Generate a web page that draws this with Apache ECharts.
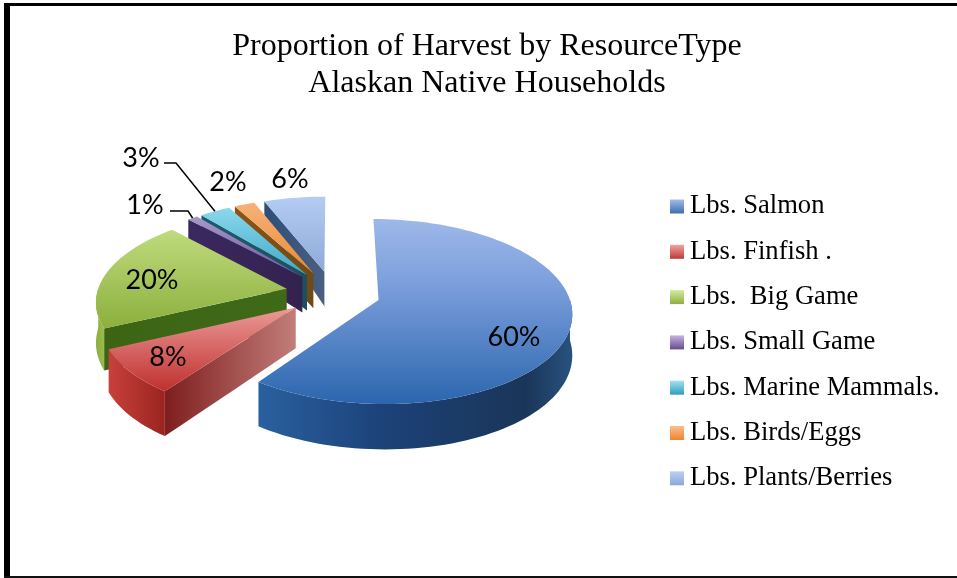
<!DOCTYPE html>
<html><head><meta charset="utf-8">
<style>html,body{margin:0;padding:0;background:#fff}#c{width:957px;height:578px}</style>
<script src="https://cdn.jsdelivr.net/npm/echarts@6/dist/echarts.min.js"></script>
</head><body><div id="c"></div>
<script>
const categories = ['Lbs. Salmon','Lbs. Finfish .','Lbs.  Big Game','Lbs. Small Game','Lbs. Marine Mammals.','Lbs. Birds/Eggs','Lbs. Plants/Berries'];
const shares = [60, 8, 20, 1, 3, 2, 6];
const titleLines = ['Proportion of Harvest by ResourceType','Alaskan Native Households'];

// layout and style, separate from the data
const view = {cx:333, cy:293, rx:189.6, ry:89.3, persp:0.124, explode:0.25};
const labelPos = [[514,337],[168,357],[152,280],[145,205],[141,158],[228,182],[290,179]];
const leaderStart = {3:[[170,211],[188,211]], 4:[[164,163],[176,163]]};
const grad = (stops,h)=>new echarts.graphic.LinearGradient(0,0,h?1:0,h?0:1,
  stops.map((c,i)=>({offset:Array.isArray(c)?c[0]:i/(stops.length-1),color:Array.isArray(c)?c[1]:c})));
const palette = [
 {top:[[0,'#9DB8EA'],[0.35,'#7C9FDC'],[1,'#2B66AE']], side:['#1b3558','#1b3558'], rim:[[0,'#2A609F'],[0.4,'#1C4278'],[0.85,'#1A3558'],[1,'#28527F']], key:['#A3BCE8','#3A6EB0']},
 {top:[[0,'#EB9A98'],[1,'#BF302E']], side:['#7E1E1E','#C27E7A'], rim:[[0,'#C8403C'],[1,'#9A2420']], key:['#F2A3A0','#BD3A36']},
 {top:[[0,'#BFDB7E'],[1,'#8CAF3C']], side:['#3C6414','#3F6A18'], rim:[[0,'#8CAE3E'],[1,'#9ABC4C']], key:['#D2EBA0','#8DAF3F']},
 {top:[[0,'#A898C8'],[1,'#7058A0']], side:['#3B2860','#33224F'], rim:[[0,'#3B2860'],[1,'#3B2860']], key:['#C4B3DE','#674A93']},
 {top:[[0,'#8CD8EC'],[1,'#3EA8C8']], side:['#1C5C70','#1C4F60'], rim:[[0,'#1C5C70'],[1,'#1C5C70']], key:['#A2E2F2','#2F9DBB']},
 {top:[[0,'#F6B27A'],[1,'#E88A35']], side:['#8A5418','#6E4A14'], rim:[[0,'#8A5418'],[1,'#8A5418']], key:['#FBBE90','#EE8430']},
 {top:[[0,'#B4CCF2'],[1,'#8FAAD8']], side:['#2D4E7A','#4A5F80'], rim:[[0,'#2D4E7A'],[1,'#2D4E7A']], key:['#BCD0F2','#8CA8D8']}
];

const total = shares.reduce((a,b)=>a+b,0);
const starts = shares.map((_,i)=>shares.slice(0,i).reduce((a,b)=>a+b,0)/total*360);
const rad = d=>d*Math.PI/180;

function sliceFrame(i){
  const a0 = starts[i], a1 = a0 + shares[i]/total*360, m = (a0+a1)/2;
  const ox = view.explode*Math.sin(rad(m)), oy = -view.explode*Math.cos(rad(m));
  const world = (r,a)=>[r*Math.sin(rad(a))+ox, -r*Math.cos(rad(a))+oy];
  const proj = (p,down)=>{
    const den = 1-view.persp*p[1];
    const h = down ? (40 + (p[1]>0?5:22)*p[1]) : 0;
    return [view.cx+view.rx*p[0]/den, view.cy+view.ry*p[1]/den+h];
  };
  return {a0,a1,m,world,proj};
}
function arc(f,a,b){
  const pts=[]; const n=Math.max(2,Math.ceil((b-a)/2));
  for(let k=0;k<=n;k++) pts.push(f.world(1,a+(b-a)*k/n));
  return pts;
}
function renderSlice(i){
  return function(params, api){
    const f = sliceFrame(i), children=[], pal=palette[i];
    const apex=f.world(0,0);
    const poly=(pts,fill)=>children.push({type:'polygon',shape:{points:pts},style:{fill:fill}});
    // cut wall on the start edge, when it faces the viewer
    if(Math.sin(rad(f.a0))<0){
      const e=f.world(1,f.a0), line=[];
      for(let k=0;k<=10;k++) line.push([apex[0]+(e[0]-apex[0])*k/10, apex[1]+(e[1]-apex[1])*k/10]);
      poly(line.map(p=>f.proj(p,false)).concat(line.slice().reverse().map(p=>f.proj(p,true))),grad(pal.side,true));
    }
    // outer wall, front half of the rim
    const lo=Math.max(f.a0,90), hi=Math.min(f.a1,270);
    if(hi>lo){
      const r=arc(f,lo,hi);
      poly(r.map(p=>f.proj(p,false)).concat(r.slice().reverse().map(p=>f.proj(p,true))),grad(pal.rim,true));
    }
    // top face
    poly([f.proj(apex,false)].concat(arc(f,f.a0,f.a1).map(p=>f.proj(p,false))),grad(pal.top,false));
    // leader
    if(leaderStart[i]){
      const end=f.proj(f.world(1,f.m),false);
      children.push({type:'polyline',shape:{points:leaderStart[i].concat([end])},style:{stroke:'#000',lineWidth:1.5,fill:null}});
    }
    // percentage label
    children.push({type:'text',x:labelPos[i][0],y:labelPos[i][1],style:{text:api.value(0)+'%',fill:'#000',font:'27px Lato',align:'center',verticalAlign:'middle'}});
    return {type:'group',children};
  };
}

const chart = echarts.init(document.getElementById('c'),null,{renderer:'canvas'});
chart.setOption({
  animation:false,
  backgroundColor:'#fff',
  title:{text:titleLines.join('\n'),left:482,top:23,textAlign:'center',
    textStyle:{fontFamily:'Liberation Serif',fontSize:32,fontWeight:'normal',color:'#000',lineHeight:37}},
  legend:{orient:'vertical',left:665,top:187,itemGap:16.3,itemWidth:14,itemHeight:14,
    textStyle:{fontFamily:'Liberation Serif',fontSize:26.6,color:'#000',padding:[0,0,0,1],lineHeight:29},
    data:categories.map((n,i)=>({name:n,icon:'rect',itemStyle:{color:grad(palette[i].key,false)}}))},
  graphic:[
    {type:'rect',shape:{x:4,y:3,width:953,height:3},style:{fill:'#000'}},
    {type:'rect',shape:{x:4,y:3,width:6,height:575},style:{fill:'#000'}},
    {type:'rect',shape:{x:4,y:576,width:953,height:2},style:{fill:'#111'}}
  ],
  series:categories.map((n,i)=>({
    type:'custom',name:n,coordinateSystem:'none',z:10-i,
    itemStyle:{color:palette[i].key[1]},
    data:[[shares[i]]],
    renderItem:renderSlice(i)
  }))
});
</script></body></html>
